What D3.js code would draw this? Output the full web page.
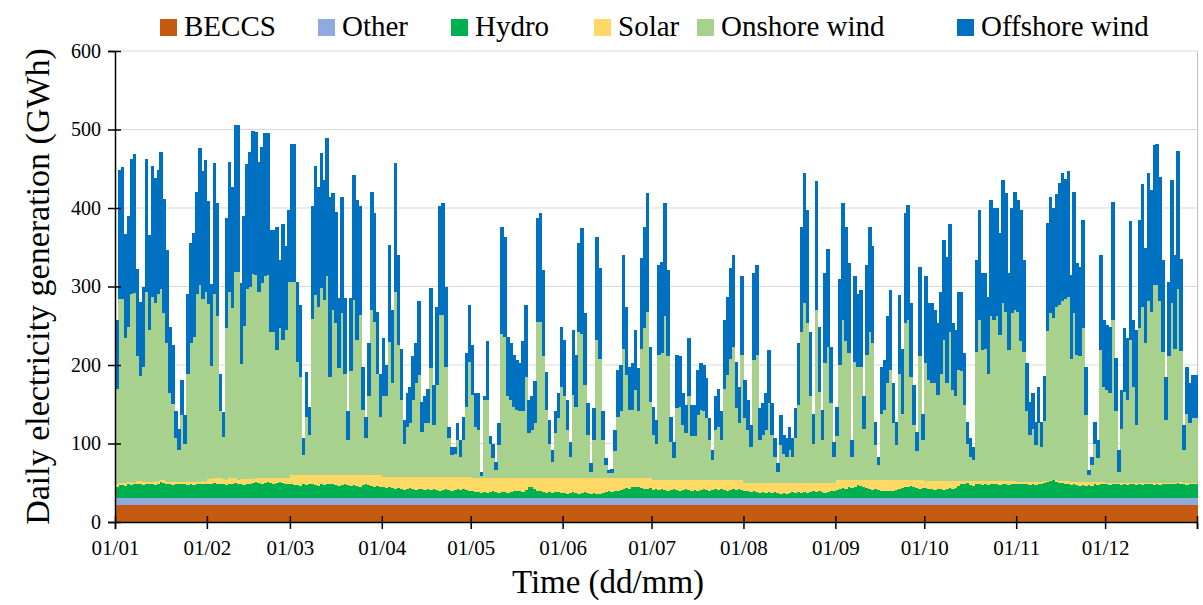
<!DOCTYPE html>
<html>
<head>
<meta charset="utf-8">
<script src="https://cdn.jsdelivr.net/npm/d3@7"></script>
<style>
  body { margin: 0; background: #fff; }
  text { font-family: "Liberation Serif", "Times New Roman", serif; fill: #000; }
</style>
</head>
<body>
<svg id="viz"></svg>
<script>
// series names shown in the legend
const seriesNames = ["BECCS", "Other", "Hydro", "Solar", "Onshore wind", "Offshore wind"];
const seriesColors = ["#c55a11", "#8faadc", "#00b050", "#ffd966", "#a9d18e", "#0070c0"];
const yTicks = [0, 100, 200, 300, 400, 500, 600];

// daily values (GWh), one row per month
const beccs = 22;
const other = 8;

const hydro = [
  15,17,17,16,18,17,18,19,18,17,18,19,18,17,19,21,20,18,19,17,18,18,19,18,17,18,17,18,19,19,18,
  19,18,20,19,18,19,17,18,19,20,19,18,17,18,19,20,21,20,19,20,21,20,19,20,21,20,19,19,
  18,17,17,16,18,17,18,19,17,16,18,17,18,19,18,17,16,17,18,17,16,17,16,15,17,18,17,16,15,16,15,
  14,13,14,13,12,13,12,11,12,13,12,11,12,12,11,12,11,12,11,10,11,12,11,10,11,12,11,12,11,10,
  9,8,8,7,8,7,8,9,8,7,8,8,7,8,9,10,9,8,11,14,15,12,10,9,8,7,8,7,8,8,7,
  7,6,7,8,7,6,7,8,7,6,7,6,6,7,8,9,8,9,10,11,12,13,12,14,15,14,13,12,12,13,
  11,12,11,12,11,10,11,12,11,10,11,12,11,10,11,10,11,12,11,10,11,12,11,12,11,10,11,12,11,12,11,
  10,9,8,9,8,7,8,7,8,7,8,7,6,7,6,7,8,7,8,7,8,7,8,9,8,9,8,7,8,9,10,
  11,12,13,12,14,13,15,17,16,14,13,12,11,12,11,10,9,10,9,10,11,12,13,14,15,16,14,13,12,13,
  13,12,12,11,12,12,11,12,13,12,13,16,18,19,20,17,16,18,19,17,18,17,18,19,18,17,19,18,17,18,19,
  19,18,19,18,17,18,17,18,19,20,21,22,23,21,20,20,19,18,17,18,17,16,17,16,17,16,18,17,18,19,
  18,17,18,19,18,17,18,17,18,19,17,18,17,18,19,18,17,18,17,19,18,19,18,19,20,19,18,17,18,18,19
];

const solar = [
  4,3,3,4,3,3,2,3,4,4,3,2,3,4,3,2,3,3,2,4,3,3,2,3,4,3,4,3,2,3,3,
  6,7,6,7,8,6,7,8,7,6,5,7,8,7,6,5,5,6,7,6,5,6,7,6,5,6,7,7,
  12,13,13,14,12,13,12,11,13,14,12,13,12,11,12,13,14,13,12,13,14,13,14,15,13,12,13,14,15,14,15,
  13,14,13,14,15,14,15,16,15,14,15,16,15,15,16,15,16,15,16,17,16,15,16,17,16,15,16,15,16,17,
  17,18,18,19,18,19,18,17,18,19,18,18,19,18,17,16,17,18,15,12,11,14,16,17,18,19,18,19,18,18,19,
  19,20,19,18,19,20,19,18,19,20,19,20,20,19,18,17,18,17,16,15,14,13,14,12,11,12,13,14,14,13,
  13,12,13,12,13,14,13,12,13,14,13,12,13,14,13,14,13,12,13,14,13,12,13,12,13,14,13,12,13,12,13,
  10,11,12,11,12,13,12,13,12,13,12,13,14,13,14,13,12,13,12,13,12,13,12,11,12,11,12,13,12,11,10,
  12,11,10,11,9,10,8,6,7,9,10,11,12,11,12,13,14,13,14,13,12,11,10,9,8,7,9,10,11,10,
  9,10,10,11,10,10,11,10,9,10,9,6,4,3,2,5,6,4,3,5,4,5,4,3,4,5,3,4,5,4,3,
  2,3,2,3,4,3,4,3,2,2,1,1,1,2,2,2,3,4,4,3,4,5,4,5,4,5,3,4,3,2,
  2,3,2,1,2,3,2,3,2,1,3,2,3,2,1,2,3,2,3,1,2,1,2,1,1,2,2,3,2,2,1
];

const onshore = [
  121,234,234,185,198,241,242,160,134,147,242,194,236,228,238,244,213,177,113,99,56,41,85,49,138,177,185,240,251,232,242,
  223,144,235,206,85,53,193,237,216,263,265,146,195,242,244,261,259,237,248,257,259,186,186,163,191,176,189,250,
  246,246,144,125,25,74,51,199,229,214,238,223,253,125,210,193,136,206,129,44,132,223,172,204,83,47,100,210,195,129,74,
  103,103,172,120,236,168,98,43,64,69,98,120,130,58,69,69,139,67,118,207,207,141,50,28,30,47,26,47,90,147,
  106,65,61,2,99,99,44,25,10,42,184,180,104,99,91,87,85,85,129,57,61,70,199,199,155,87,44,21,57,76,116,
  104,61,27,106,91,186,184,119,55,8,48,176,152,48,17,6,6,34,78,85,165,131,87,87,112,85,165,191,212,97,
  57,46,159,161,208,157,48,27,91,93,70,59,106,55,55,82,89,87,78,50,25,63,67,50,116,133,154,169,91,72,159,
  82,67,46,156,163,54,61,67,101,61,33,14,48,37,33,42,33,57,99,192,229,203,110,50,220,116,54,152,173,101,33,
  56,147,204,177,162,30,151,145,145,66,160,189,175,45,20,85,90,124,141,73,45,136,85,200,204,132,71,37,158,51,
  150,129,125,125,110,137,180,125,190,116,108,142,140,97,48,31,27,165,205,167,169,137,210,205,210,186,227,216,167,214,218,
  217,179,166,90,60,68,47,75,45,77,191,213,206,221,225,230,232,234,157,215,162,160,196,85,9,22,49,30,168,121,
  118,114,207,91,14,69,116,105,182,122,74,197,224,178,231,218,252,252,231,167,80,161,229,171,246,167,42,88,76,82,82
];

const offshore = [
  87,165,168,132,141,171,177,110,94,102,169,121,166,159,159,174,146,118,85,75,34,27,45,36,102,127,132,130,174,163,168,
  131,104,166,144,48,32,140,166,155,187,187,104,140,159,172,182,182,166,174,182,180,130,130,157,87,148,106,91,
  176,176,102,91,22,57,36,143,164,153,172,153,176,229,149,142,89,148,96,37,93,159,178,138,55,27,68,151,138,79,55,
  74,40,124,93,164,115,66,30,43,46,56,51,94,38,34,44,102,51,99,138,142,102,14,11,9,22,21,30,68,72,
  63,43,47,6,5,75,9,19,11,28,136,127,76,73,66,63,61,89,91,42,43,53,132,138,110,48,30,15,28,32,77,
  72,38,19,83,66,113,134,91,40,11,41,131,115,37,8,4,6,27,60,59,119,87,55,59,77,55,115,129,151,70,
  36,30,115,116,144,110,32,21,68,64,40,36,74,40,40,58,59,59,51,28,13,43,49,37,87,100,115,117,59,46,100,
  49,38,28,111,114,41,40,47,68,40,24,11,38,24,24,29,24,38,79,134,165,144,82,38,164,83,39,115,125,72,19,
  38,110,149,146,115,21,109,93,98,41,114,134,123,30,10,60,63,85,102,51,30,100,83,140,147,94,51,25,114,34,
  111,98,102,93,91,104,127,161,138,85,85,99,101,66,28,24,17,117,140,98,96,98,148,143,138,130,157,151,98,134,151,
  142,167,117,61,42,45,30,46,32,57,138,148,140,144,155,163,153,161,107,155,117,114,138,62,6,10,28,23,121,85,
  83,85,151,68,28,49,81,79,151,85,121,138,157,121,163,155,178,180,159,117,55,95,157,119,176,117,32,60,51,55,55
];

const width = 1203, height = 605;
const margin = { top: 51, right: 6, bottom: 83, left: 115 };

const days = d3.timeDay.range(new Date(2019, 0, 1), new Date(2020, 0, 1));
const data = days.map((d, i) => ({
  date: d,
  beccs: beccs, other: other,
  hydro: hydro[i], solar: solar[i],
  onshore: onshore[i], offshore: offshore[i]
}));
const keys = ["beccs", "other", "hydro", "solar", "onshore", "offshore"];

const svg = d3.select("#viz")
  .attr("width", width)
  .attr("height", height)
  .attr("viewBox", [0, 0, width, height]);

const x = d3.scaleTime()
  .domain([new Date(2019, 0, 1), new Date(2020, 0, 1)])
  .range([margin.left, width - margin.right]);

const y = d3.scaleLinear()
  .domain([0, 600])
  .range([height - margin.bottom, margin.top]);

// gridlines
svg.append("g")
  .selectAll("line")
  .data(yTicks.slice(1))
  .join("line")
    .attr("x1", margin.left)
    .attr("x2", width - margin.right)
    .attr("y1", d => y(d))
    .attr("y2", d => y(d))
    .attr("stroke", "#d9d9d9")
    .attr("stroke-width", 1);

// right border of plot area
svg.append("line")
  .attr("x1", width - margin.right + 0.5)
  .attr("x2", width - margin.right + 0.5)
  .attr("y1", margin.top)
  .attr("y2", height - margin.bottom)
  .attr("stroke", "#bfbfbf");

const stacked = d3.stack().keys(keys)(data);

svg.append("g")
  .attr("shape-rendering", "crispEdges")
  .selectAll("g")
  .data(stacked)
  .join("g")
    .attr("fill", (d, i) => seriesColors[i])
  .selectAll("rect")
  .data(d => d)
  .join("rect")
    .attr("x", d => x(d.data.date))
    .attr("width", d => x(d3.timeDay.offset(d.data.date, 1)) - x(d.data.date) + 0.6)
    .attr("y", d => y(d[1]))
    .attr("height", d => y(d[0]) - y(d[1]));

// y axis
const yAxis = svg.append("g")
  .attr("transform", `translate(${margin.left},0)`)
  .call(d3.axisLeft(y).tickValues(yTicks).tickSize(7).tickPadding(7));
yAxis.select(".domain").attr("stroke", "#000").attr("stroke-width", 1.5);
yAxis.selectAll(".tick line").attr("x1", 6).attr("stroke-width", 1.5);
yAxis.selectAll(".tick text")
  .attr("font-family", "Liberation Serif, serif")
  .attr("font-size", 20);

// x axis: month starts labelled, year end ticked only
const monthTicks = d3.timeMonth.range(new Date(2019, 0, 1), new Date(2020, 0, 2));
const xAxis = svg.append("g")
  .attr("transform", `translate(0,${height - margin.bottom})`)
  .call(d3.axisBottom(x)
    .tickValues(monthTicks)
    .tickFormat(d => d.getFullYear() === 2019 ? d3.timeFormat("%d/%m")(d) : "")
    .tickSize(7)
    .tickPadding(11));
xAxis.select(".domain").attr("stroke", "#000").attr("stroke-width", 1.5);
xAxis.selectAll(".tick line").attr("y1", -6).attr("stroke-width", 1.5);
xAxis.selectAll(".tick text")
  .attr("font-family", "Liberation Serif, serif")
  .attr("font-size", 21);

// axis titles
svg.append("text")
  .attr("transform", `translate(37,${(margin.top + height - margin.bottom) / 2}) rotate(-90)`)
  .attr("text-anchor", "middle")
  .attr("dy", "0.35em")
  .attr("font-size", 34)
  .text("Daily electricity generation (GWh)");

svg.append("text")
  .attr("x", 608)
  .attr("y", 593)
  .attr("text-anchor", "middle")
  .attr("font-size", 33)
  .text("Time (dd/mm)");

// legend
const legendX = [160, 318, 451, 594, 697, 957];
const legend = svg.append("g")
  .selectAll("g")
  .data(seriesNames)
  .join("g")
    .attr("transform", (d, i) => `translate(${legendX[i]},19)`);
legend.append("rect")
  .attr("width", 17)
  .attr("height", 17)
  .attr("fill", (d, i) => seriesColors[i]);
legend.append("text")
  .attr("x", 24)
  .attr("y", 17)
  .attr("font-size", 29)
  .text(d => d);
</script>
</body>
</html>
